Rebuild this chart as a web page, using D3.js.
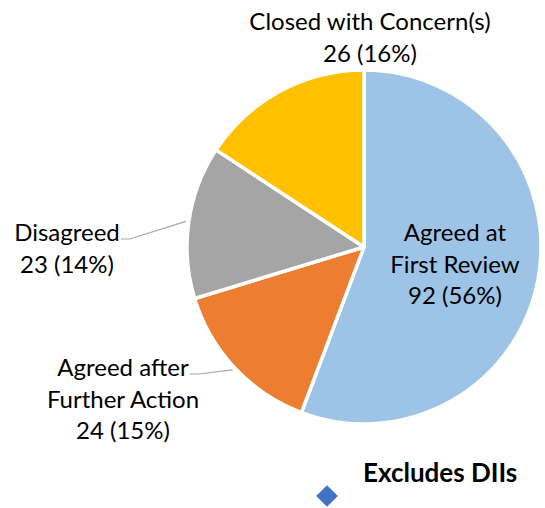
<!DOCTYPE html>
<html>
<head>
<meta charset="utf-8">
<script src="https://cdn.jsdelivr.net/npm/d3@7"></script>
<style>
  body { margin: 0; background: #fff; }
  svg text { font-family: Lato, "Noto Sans", sans-serif; fill: #000; }
</style>
</head>
<body>
<div class="chart"></div>
<script>
// data
var categories = ["Agreed at First Review", "Agreed after Further Action", "Disagreed", "Closed with Concern(s)"];
var values = [92, 24, 23, 26];
var labelLines = [
  ["Agreed at", "First Review"],
  ["Agreed after", "Further Action"],
  ["Disagreed"],
  ["Closed with Concern(s)"]
];
var colors = ["#9DC3E6", "#ED7D31", "#A5A5A5", "#FFC000"];
var note = "Excludes DIIs";

var width = 545;
var height = 508;
var cx = 364, cy = 247, radius = 177;
var fontSize = 24;
var lineGap = 31.5;

// where each label block sits (centre x, first baseline y), and whether it gets a leader line
var labelPos = [
  { x: 455, y: 241, leader: false },
  { x: 123, y: 376, leader: true },
  { x: 67, y: 241, leader: true },
  { x: 370, y: 30, leader: false }
];

var total = d3.sum(values);
var fmtPct = d3.format(".0%");

var svg = d3.select(".chart").append("svg")
  .attr("width", width)
  .attr("height", height);

var g = svg.append("g")
  .attr("transform", `translate(${cx}, ${cy})`);

var pie = d3.pie().sort(null).value(d => d)(values);
var arc = d3.arc().innerRadius(0).outerRadius(radius);
var edge = d3.arc().innerRadius(radius + 3).outerRadius(radius + 3);

g.selectAll("path.slice")
  .data(pie).enter()
  .append("path")
  .attr("class", "slice")
  .attr("d", arc)
  .attr("fill", (d, i) => colors[i])
  .attr("stroke", "#fff")
  .attr("stroke-width", 3.5)
  .attr("stroke-linejoin", "round");

/* leader lines */
pie.forEach(function(d, i) {
  var p = labelPos[i];
  if (!p.leader) return;
  var c = edge.centroid(d);
  var tx = cx + c[0], ty = cy + c[1];
  // end of first text line
  var firstLine = svg.append("text")
    .attr("x", p.x).attr("y", p.y)
    .attr("text-anchor", "middle")
    .attr("font-size", fontSize)
    .attr("visibility", "hidden")
    .text(labelLines[i][0]);
  var w = firstLine.node().getComputedTextLength();
  firstLine.remove();
  var x0 = p.x + w / 2 + 1;
  var y0 = p.y - 2;
  svg.append("path")
    .attr("d", d3.line()([[x0, y0], [x0 + 9, y0], [tx, ty]]))
    .attr("fill", "none")
    .attr("stroke", "#A6A6A6")
    .attr("stroke-width", 1.2);
});

/* labels */
pie.forEach(function(d, i) {
  var p = labelPos[i];
  var lines = labelLines[i].concat([values[i] + " (" + fmtPct(values[i] / total) + ")"]);
  var t = svg.append("text")
    .attr("text-anchor", "middle")
    .attr("font-size", fontSize);
  lines.forEach(function(s, k) {
    t.append("tspan")
      .attr("x", p.x)
      .attr("y", p.y + k * lineGap)
      .text(s);
  });
});

/* note with diamond marker */
svg.append("path")
  .attr("d", d3.symbol().type(d3.symbolDiamond2).size(300)())
  .attr("transform", "translate(327, 496)")
  .attr("fill", "#4472C4");

svg.append("text")
  .attr("x", 363)
  .attr("y", 482)
  .attr("font-size", 26)
  .attr("font-weight", "bold")
  .text(note);
</script>
</body>
</html>
